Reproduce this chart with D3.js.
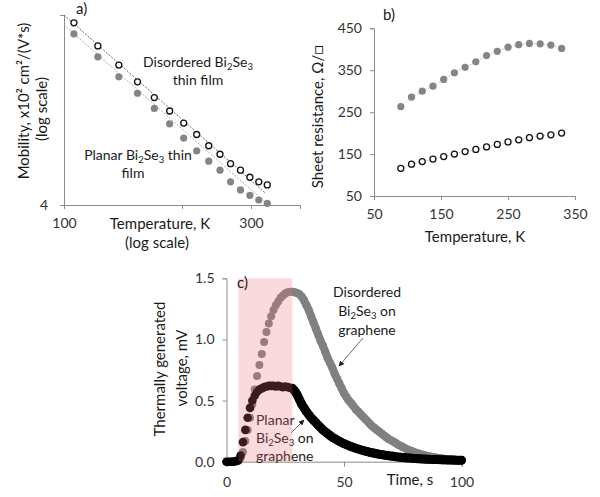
<!DOCTYPE html>
<html>
<head>
<meta charset="utf-8">
<script src="https://cdn.jsdelivr.net/npm/d3@7"></script>
<style>
  body { margin: 0; background: #fff; }
  svg { font-family: Lato, 'Open Sans', sans-serif; }
  .axis path, .axis line { stroke: #8c8c8c; }
  .axis text { font-size: 14px; fill: #333; font-family: Lato, 'Open Sans', sans-serif; }
</style>
</head>
<body>
<svg width="600" height="497"></svg>
<script>
// ---- panel a: mobility vs temperature (log-log)
var tempA = [106, 122, 138, 154, 170, 186, 202, 218, 234, 250, 266, 282, 298, 314, 330];
var mobDisordered = [36.4, 27.5, 21.8, 17.8, 14.7, 12.5, 10.8, 9.4, 8.2, 7.4, 6.6, 6.1, 5.6, 5.3, 5.1];
var mobPlanar = [31.8, 24.1, 18.9, 15.5, 12.9, 10.7, 9.0, 7.7, 6.8, 6.1, 5.3, 4.8, 4.5, 4.25, 4.08];
var trendDisT = [100, 326], trendDisV = [40, 4.63];
var trendPlaT = [100, 330], trendPlaV = [35.5, 4.05];
var tickA_x = [100, 200, 300, 400];
var tickA_y = [4, 40];

// ---- panel b: sheet resistance vs temperature
var tempB = [90, 106, 122, 138, 154, 170, 186, 202, 218, 234, 250, 266, 282, 298, 314, 330];
var rsPlanar = [263, 286, 300, 312, 328, 344, 357, 370, 385, 395, 405, 411, 414, 413, 410, 402];
var rsDisordered = [116, 126, 132, 138, 144, 150, 156, 161, 167, 173, 179, 184, 189, 193, 196, 200];
var tickB_x = [50, 150, 250, 350];
var tickB_y = [50, 150, 250, 350, 450];

// ---- panel c: thermally generated voltage vs time
var timeC = [0,1,2,3,4,5,6,7,8,9,10,11,12,13,14,15,16,17,18,19,20,21,22,23,24,25,26,27,28,29,30,
  31,32,33,34,35,36,37,38,39,40,41,42,43,44,45,46,47,48,49,50,51,52,53,54,55,56,57,58,59,60,
  61,62,63,64,65,66,67,68,69,70,71,72,73,74,75,76,77,78,79,80,81,82,83,84,85,86,87,88,89,90,
  91,92,93,94,95,96,97,98,99,100];
var vDisordered = [0,0,0,0.005,0.005,0.01,0.03,0.08,0.17,0.26,0.36,0.47,0.59,0.70,0.79,0.88,
  0.98,1.06,1.13,1.19,1.24,1.28,1.31,1.34,1.36,1.375,1.385,1.39,1.39,1.385,1.38,
  1.37,1.35,1.32,1.28,1.24,1.19,1.14,1.09,1.04,0.99,0.95,0.90,0.85,0.81,0.77,0.72,0.68,0.64,0.60,0.56,
  0.53,0.50,0.48,0.455,0.43,0.41,0.39,0.37,0.35,0.33,0.31,0.29,0.275,0.26,0.245,0.23,0.215,0.20,0.185,0.175,
  0.165,0.152,0.14,0.13,0.12,0.11,0.10,0.093,0.085,0.078,0.071,0.065,0.059,0.054,0.049,0.045,0.041,0.037,0.034,0.031,
  0.028,0.025,0.022,0.02,0.018,0.016,0.014,0.013,0.012,0.011];
var vPlanar = [0,0,0,0,0.005,0.01,0.05,0.16,0.26,0.36,0.44,0.50,0.54,0.57,0.59,0.60,
  0.61,0.615,0.62,0.62,0.62,0.615,0.62,0.615,0.61,0.615,0.61,0.605,0.60,0.58,0.55,
  0.51,0.47,0.44,0.41,0.385,0.36,0.34,0.32,0.30,0.28,0.26,0.245,0.23,0.215,0.20,0.19,0.178,0.167,0.157,0.148,
  0.14,0.132,0.124,0.117,0.11,0.104,0.098,0.092,0.087,0.082,0.077,0.073,0.069,0.065,0.061,0.058,0.055,0.052,0.049,0.046,
  0.044,0.041,0.039,0.037,0.035,0.033,0.031,0.03,0.028,0.027,0.025,0.024,0.023,0.022,0.021,0.02,0.019,0.018,0.017,0.017,
  0.016,0.015,0.015,0.014,0.014,0.013,0.013,0.012,0.012,0.012];
var heatOn = [5, 28];
var tickC_x = [0, 50, 100];
var tickC_y = [0, 0.5, 1.0, 1.5];

var svg = d3.select('svg');

// little helper for text with subscripts: parts = [[text, isSub], ...]
function richText(g, x, y, parts, size, anchor, rotate) {
    var t = g.append('text')
        .attr('x', x).attr('y', y)
        .attr('text-anchor', anchor || 'middle')
        .attr('font-size', size)
        .attr('fill', '#1a1a1a');
    if (rotate) t.attr('transform', 'rotate(-90,' + x + ',' + y + ')');
    var down = false;
    parts.forEach(function(p) {
        var s = t.append('tspan').text(p[0]);
        if (p[1] && !down) { s.attr('dy', size * 0.22).attr('font-size', size * 0.68); down = true; }
        else if (p[1]) { s.attr('font-size', size * 0.68); }
        else if (down) { s.attr('dy', -size * 0.22); down = false; }
    });
    return t;
}

// ================= panel a
var xA = d3.scaleLog().domain([100, 400]).range([64, 300]);
var yA = d3.scaleLog().domain([4, 40]).range([205, 15]);

svg.append('g').attr('class', 'axis')
    .attr('transform', 'translate(0,205)')
    .call(d3.axisBottom(xA).tickValues(tickA_x).tickSizeOuter(0).tickSize(4).tickPadding(9)
        .tickFormat(function(d) { return (d == 100 || d == 300) ? d : ''; }));
svg.append('g').attr('class', 'axis')
    .attr('transform', 'translate(64,0)')
    .call(d3.axisLeft(yA).tickValues(tickA_y).tickSizeOuter(0).tickSize(4).tickPadding(12)
        .tickFormat(function(d) { return d == 4 ? d : ''; }));

var lineA = d3.line().x(function(d) { return xA(d[0]); }).y(function(d) { return yA(d[1]); });
svg.append('path')
    .attr('d', lineA(d3.zip(trendDisT, trendDisV)))
    .attr('fill', 'none').attr('stroke', '#444').attr('stroke-width', 0.8)
    .attr('stroke-dasharray', '2,1.5');
svg.append('path')
    .attr('d', lineA(d3.zip(trendPlaT, trendPlaV)))
    .attr('fill', 'none').attr('stroke', '#999').attr('stroke-width', 0.8)
    .attr('stroke-dasharray', '2,1.5');

svg.append('g').selectAll('circle')
    .data(d3.zip(tempA, mobPlanar))
    .enter().append('circle')
    .attr('cx', function(d) { return xA(d[0]); })
    .attr('cy', function(d) { return yA(d[1]); })
    .attr('r', 3.6).attr('fill', '#858585');
svg.append('g').selectAll('circle')
    .data(d3.zip(tempA, mobDisordered))
    .enter().append('circle')
    .attr('cx', function(d) { return xA(d[0]); })
    .attr('cy', function(d) { return yA(d[1]); })
    .attr('r', 3).attr('fill', '#fff').attr('stroke', '#111').attr('stroke-width', 1.3);

richText(svg, 76, 14, [['a)', 0]], 15, 'start');
richText(svg, 29, 101, [['Mobility, x10² cm²/(V*s)', 0]], 15, 'middle', true);
richText(svg, 47, 109, [['(log scale)', 0]], 15, 'middle', true);
richText(svg, 160, 229, [['Temperature, K', 0]], 15);
richText(svg, 157, 248, [['(log scale)', 0]], 15);
richText(svg, 198, 67, [['Disordered Bi', 0], ['2', 1], ['Se', 0], ['3', 1]], 14);
richText(svg, 198, 85, [['thin film', 0]], 14);
richText(svg, 138, 160, [['Planar Bi', 0], ['2', 1], ['Se', 0], ['3', 1], [' thin', 0]], 14);
richText(svg, 133, 178, [['film', 0]], 14);

// ================= panel b
var xB = d3.scaleLinear().domain([50, 350]).range([374, 575]);
var yB = d3.scaleLinear().domain([50, 450]).range([196, 28.3]);

svg.append('g').attr('class', 'axis')
    .attr('transform', 'translate(0,196)')
    .call(d3.axisBottom(xB).tickValues(tickB_x).tickSizeOuter(0).tickSize(4).tickPadding(9));
svg.append('g').attr('class', 'axis')
    .attr('transform', 'translate(374,0)')
    .call(d3.axisLeft(yB).tickValues(tickB_y).tickSizeOuter(0).tickSize(4).tickPadding(8));

var lineB = d3.line().x(function(d) { return xB(d[0]); }).y(function(d) { return yB(d[1]); });
[rsPlanar, rsDisordered].forEach(function(s) {
    svg.append('path')
        .attr('d', lineB(d3.zip(tempB, s)))
        .attr('fill', 'none').attr('stroke', '#aaa').attr('stroke-width', 0.8)
        .attr('stroke-dasharray', '1.5,1.5');
});
svg.append('g').selectAll('circle')
    .data(d3.zip(tempB, rsPlanar))
    .enter().append('circle')
    .attr('cx', function(d) { return xB(d[0]); })
    .attr('cy', function(d) { return yB(d[1]); })
    .attr('r', 3.6).attr('fill', '#858585');
svg.append('g').selectAll('circle')
    .data(d3.zip(tempB, rsDisordered))
    .enter().append('circle')
    .attr('cx', function(d) { return xB(d[0]); })
    .attr('cy', function(d) { return yB(d[1]); })
    .attr('r', 3).attr('fill', '#fff').attr('stroke', '#111').attr('stroke-width', 1.3);

richText(svg, 383, 20, [['b)', 0]], 15, 'start');
richText(svg, 323, 117, [['Sheet resistance, Ω/□', 0]], 15, 'middle', true);
richText(svg, 475, 242, [['Temperature, K', 0]], 15);

// ================= panel c
var xC = d3.scaleLinear().domain([0, 100]).range([226.5, 461.5]);
var yC = d3.scaleLinear().domain([0, 1.5]).range([461.7, 278.3]);

svg.append('g').attr('class', 'axis')
    .attr('transform', 'translate(0,461.7)')
    .call(d3.axisBottom(xC).tickValues(tickC_x).tickSizeOuter(0).tickSize(5).tickPadding(10));
svg.append('g').attr('class', 'axis')
    .attr('transform', 'translate(226.5,0)')
    .call(d3.axisLeft(yC).tickValues(tickC_y).tickSizeOuter(0).tickSize(4).tickPadding(8)
        .tickFormat(d3.format('.1f')));

// decay part is sampled densely in the original, so the dots merge into a band
var lineC = d3.line().x(function(d) { return xC(d[0]); }).y(function(d) { return yC(d[1]); });
var seriesC = [[vDisordered, '#808080', 4, 8], [vPlanar, '#000', 4.3, 9]];
seriesC.forEach(function(s) {
    var pts = d3.zip(timeC, s[0]);
    svg.append('path')
        .attr('d', lineC(pts.filter(function(d) { return d[0] >= heatOn[1]; })))
        .attr('fill', 'none').attr('stroke', s[1]).attr('stroke-width', s[3])
        .attr('stroke-linecap', 'round').attr('stroke-linejoin', 'round');
    svg.append('g').selectAll('circle')
        .data(pts)
        .enter().append('circle')
        .attr('cx', function(d) { return xC(d[0]); })
        .attr('cy', function(d) { return yC(d[1]); })
        .attr('r', s[2]).attr('fill', s[1]);
});

richText(svg, 367, 297, [['Disordered', 0]], 14);
richText(svg, 367, 316, [['Bi', 0], ['2', 1], ['Se', 0], ['3', 1], [' on', 0]], 14);
richText(svg, 367, 335, [['graphene', 0]], 14);
richText(svg, 256, 425, [['Planar', 0]], 14, 'start');
richText(svg, 256, 443, [['Bi', 0], ['2', 1], ['Se', 0], ['3', 1], [' on', 0]], 14, 'start');
richText(svg, 256, 461, [['graphene', 0]], 14, 'start');

svg.append('defs').append('marker')
    .attr('id', 'arr').attr('viewBox', '0 0 10 10').attr('refX', 9).attr('refY', 5)
    .attr('markerWidth', 7).attr('markerHeight', 7).attr('orient', 'auto')
    .append('path').attr('d', 'M0,0 L10,5 L0,10 z').attr('fill', '#222');
svg.append('line').attr('x1', 363).attr('y1', 338).attr('x2', 339).attr('y2', 366)
    .attr('stroke', '#444').attr('stroke-width', 0.8).attr('marker-end', 'url(#arr)');
svg.append('line').attr('x1', 291).attr('y1', 433).attr('x2', 304).attr('y2', 420)
    .attr('stroke', '#444').attr('stroke-width', 0.8).attr('marker-end', 'url(#arr)');

// heating period shading, drawn over the dots
svg.append('rect')
    .attr('x', xC(heatOn[0])).attr('y', yC(1.5))
    .attr('width', xC(heatOn[1]) - xC(heatOn[0]))
    .attr('height', yC(0) - yC(1.5))
    .attr('fill', 'rgb(235,107,115)').attr('fill-opacity', 0.25);

richText(svg, 237, 288, [['c)', 0]], 15, 'start');
richText(svg, 165, 369, [['Thermally generated', 0]], 15, 'middle', true);
richText(svg, 187, 368, [['voltage, mV', 0]], 15, 'middle', true);
richText(svg, 410, 485, [['Time, s', 0]], 15);
</script>
</body>
</html>
